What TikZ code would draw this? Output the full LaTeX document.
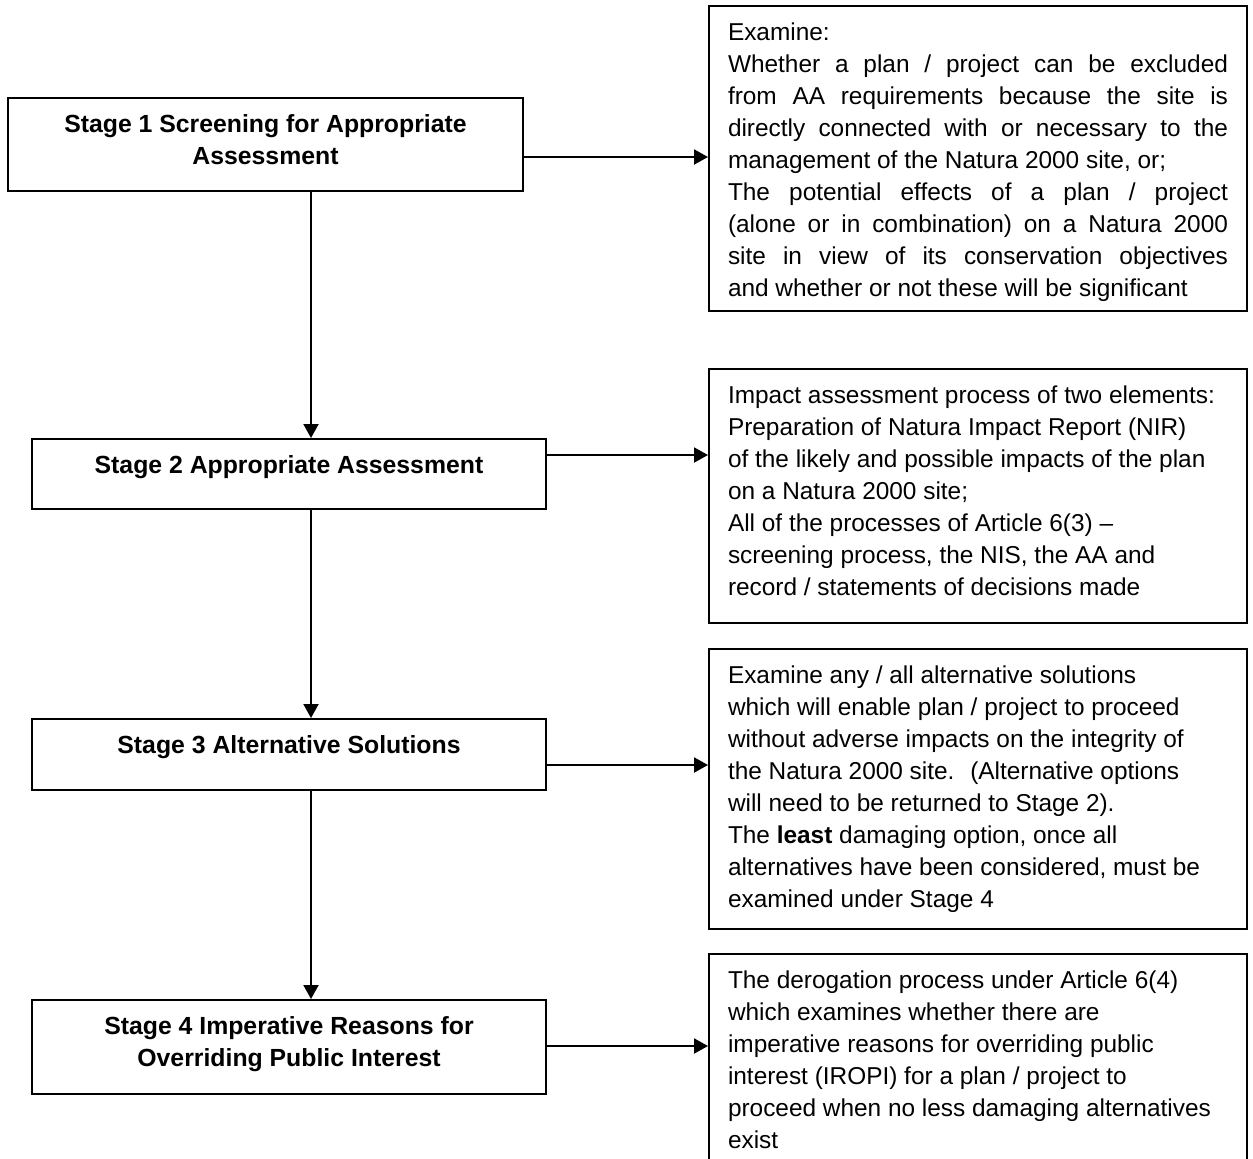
\documentclass[tikz,border=0pt]{standalone}
\usepackage{fontspec}
\setmainfont{Liberation Sans}
\usetikzlibrary{arrows.meta}

\newcommand{\boxtext}[3]{\parbox[t][#1][t]{#2}{\strut#3}}

\begin{document}
\begin{tikzpicture}
            [every node/.style={inner xsep=0pt, inner ysep=6pt},
             stagebox/.style={draw=black, line width=1pt, anchor=north west, font=\fontsize{12.4}{16}\selectfont\bfseries},
             notebox/.style={draw=black, line width=1pt, anchor=north west, inner xsep=9.5pt, font=\fontsize{12.2}{16}\selectfont},
             arr/.style={line width=1pt, -{Triangle[length=7pt, width=7.5pt]}, color=black}]
                \useasboundingbox (0pt, 0pt) rectangle (626.5pt, -579pt);
                \clip (0pt, 0pt) rectangle (626.5pt, -579pt);
                \coordinate (spine) at (155.5pt, 0pt);
                \coordinate (row1) at (0pt, -78.5pt);
                \coordinate (row2) at (0pt, -227.5pt);
                \coordinate (row3) at (0pt, -382.5pt);
                \coordinate (row4) at (0pt, -523pt);
                % stages
                \node (s1) [stagebox] at (3.5pt, -48.5pt) {\boxtext{34.5pt}{257.5pt}{\centering Stage 1 Screening for Appropriate\\ Assessment}};
                \node (s2) [stagebox] at (15.5pt, -219pt) {\boxtext{23pt}{257pt}{\centering Stage 2 Appropriate Assessment}};
                \node (s3) [stagebox] at (15.5pt, -359pt) {\boxtext{23.5pt}{257pt}{\centering Stage 3 Alternative Solutions}};
                \node (s4) [stagebox] at (15.5pt, -499.5pt) {\boxtext{35pt}{257pt}{\centering Stage 4 Imperative Reasons for\\ Overriding Public Interest}};
                % descriptions
                \node (d1) [notebox] at (354pt, -2.5pt) {\boxtext{140.5pt}{250pt}{Examine:\\
                    Whether a plan / project can be excluded\linebreak
                    from AA requirements because the site is\linebreak
                    directly connected with or necessary to the\linebreak
                    management of the Natura 2000 site, or;\\
                    The potential effects of a plan / project\linebreak
                    (alone or in combination) on a Natura 2000\linebreak
                    site in view of its conservation objectives\linebreak
                    and whether or not these will be significant}};
                \node (d2) [notebox] at (354pt, -184pt) {\boxtext{115pt}{250pt}{\raggedright Impact assessment process of two elements:\\
                    Preparation of Natura Impact Report (NIR)\\
                    of the likely and possible impacts of the plan\\
                    on a Natura 2000 site;\\
                    All of the processes of Article 6(3) –\\
                    screening process, the NIS, the AA and\\
                    record / statements of decisions made}};
                \node (d3) [notebox] at (354pt, -324pt) {\boxtext{128pt}{250pt}{\raggedright Examine any / all alternative solutions\\
                    which will enable plan / project to proceed\\
                    without adverse impacts on the integrity of\\
                    the Natura 2000 site.~ (Alternative options\\
                    will need to be returned to Stage 2).\\
                    The \textbf{least} damaging option, once all\\
                    alternatives have been considered, must be\\
                    examined under Stage 4}};
                \node (d4) [notebox] at (354pt, -476.5pt) {\boxtext{98pt}{250pt}{\raggedright The derogation process under Article 6(4)\\
                    which examines whether there are\\
                    imperative reasons for overriding public\\
                    interest (IROPI) for a plan / project to\\
                    proceed when no less damaging alternatives\\
                    exist}};
                % arrows
                \draw [arr] (s1.south -| spine) to (s2.north -| spine);
                \draw [arr] (s2.south -| spine) to (s3.north -| spine);
                \draw [arr] (s3.south -| spine) to (s4.north -| spine);
                \draw [arr] (s1.east |- row1) to (d1.west |- row1);
                \draw [arr] (s2.east |- row2) to (d2.west |- row2);
                \draw [arr] (s3.east |- row3) to (d3.west |- row3);
                \draw [arr] (s4.east |- row4) to (d4.west |- row4);
            \end{tikzpicture}
\end{document}
